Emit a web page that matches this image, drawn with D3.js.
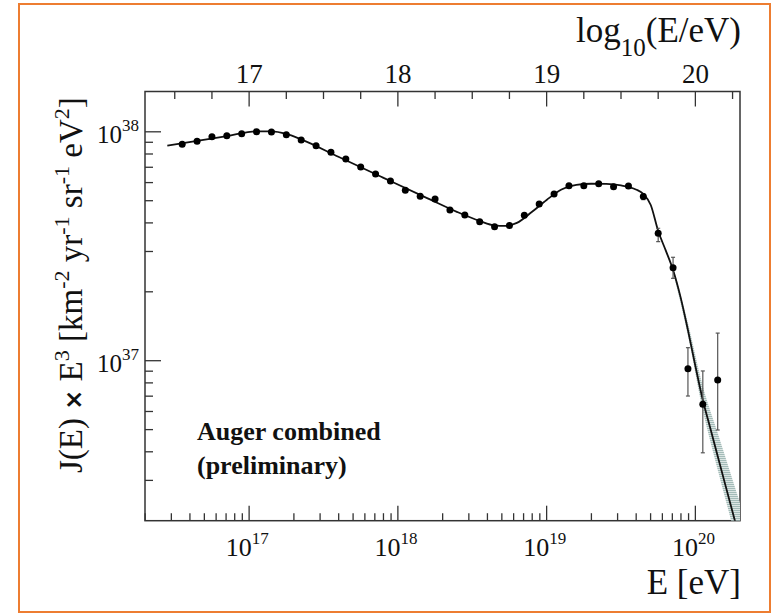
<!DOCTYPE html>
<html>
<head>
<meta charset="utf-8">
<script src="https://cdn.jsdelivr.net/npm/d3@7"></script>
<style>
  body { margin: 0; background: #fff; }
</style>
</head>
<body>
<svg id="chart" width="773" height="615"></svg>
<script>
// Energy bin centres, log10(E/eV)
const binLogE = [16.55, 16.65, 16.75, 16.85, 16.95, 17.05, 17.15, 17.25, 17.35, 17.45,
                 17.55, 17.65, 17.75, 17.85, 17.95, 18.05, 18.15, 18.25, 18.35, 18.45,
                 18.55, 18.65, 18.75, 18.85, 18.95, 19.05, 19.15, 19.25, 19.35, 19.45,
                 19.55, 19.65, 19.75, 19.85, 19.95, 20.05, 20.15];
// J(E) x E^3 [km^-2 yr^-1 sr^-1 eV^2]
const fluxE3 = [8.82e37, 9.09e37, 9.52e37, 9.62e37, 9.81e37, 1.00e38, 9.98e37, 9.71e37, 9.21e37, 8.70e37,
                8.14e37, 7.61e37, 7.02e37, 6.54e37, 6.10e37, 5.55e37, 5.23e37, 5.09e37, 4.55e37, 4.33e37,
                4.05e37, 3.85e37, 3.90e37, 4.32e37, 4.84e37, 5.35e37, 5.81e37, 5.81e37, 5.93e37, 5.76e37,
                5.80e37, 5.21e37, 3.60e37, 2.55e37, 9.23e36, 6.45e36, 8.24e36];
// Statistical uncertainty bounds (null where hidden by the marker)
const fluxLow  = [null, null, null, null, null, null, null, null, null, null,
                  null, null, null, null, null, null, null, null, null, null,
                  null, null, null, null, null, null, null, null, null, 5.66e37,
                  5.70e37, 5.06e37, 3.31e37, 2.29e37, 7.01e36, 3.96e36, 4.98e36];
const fluxHigh = [null, null, null, null, null, null, null, null, null, null,
                  null, null, null, null, null, null, null, null, null, null,
                  null, null, null, null, null, null, null, null, null, 5.86e37,
                  5.90e37, 5.37e37, 3.79e37, 2.83e37, 1.14e37, 9.02e36, 1.32e37];

// Combined spectrum fit
const fitLogE = [16.45, 16.65, 16.85, 17.05, 17.15, 17.25, 17.35, 17.6, 17.9, 18.2,
                 18.4, 18.55, 18.65, 18.72, 18.8, 18.9, 19.0, 19.1, 19.2, 19.3,
                 19.4, 19.5, 19.6, 19.65, 19.7, 19.75, 19.8, 19.85, 19.9, 19.95,
                 20.0, 20.05, 20.1, 20.2, 20.3];
const fitFlux = [8.70e37, 9.12e37, 9.58e37, 1.005e38, 1.005e38, 9.80e37, 9.27e37, 7.78e37, 6.31e37, 5.12e37,
                 4.46e37, 4.08e37, 3.90e37, 3.88e37, 4.00e37, 4.46e37, 5.04e37, 5.60e37, 5.86e37, 5.93e37,
                 5.92e37, 5.83e37, 5.60e37, 5.35e37, 4.79e37, 3.69e37, 3.04e37, 2.49e37, 1.90e37, 1.36e37,
                 9.48e36, 6.73e36, 5.08e36, 2.89e36, 1.65e36];

// Fit uncertainty band at the highest energies
const bandLogE = [19.85, 19.95, 20.05, 20.15, 20.25, 20.3];
const bandHigh = [2.56e37, 1.46e37, 7.73e36, 4.83e36, 3.02e36, 2.39e36];
const bandLow  = [2.43e37, 1.29e37, 6.07e36, 3.34e36, 1.89e36, 1.40e36];

// Axis labelling
const bottomDecades = [17, 18, 19, 20];
const topTickLabels = ["17", "18", "19", "20"];
const leftDecades = [37, 38];

const SERIF = "'Liberation Serif'";
const svg = d3.select("#chart");
const plot = { left: 145, right: 740, top: 91.5, bottom: 520.7 };

// Orange frame
svg.append("rect").attr("x", 19).attr("y", 4).attr("width", 751).attr("height", 608)
  .attr("fill", "none").attr("stroke", "#ED7D31").attr("stroke-width", 2);

const x = d3.scaleLog().domain([Math.pow(10, 16.3), Math.pow(10, 20.3)]).range([plot.left, plot.right]);
const xLin = d3.scaleLinear().domain([16.3, 20.3]).range([plot.left, plot.right]);
const y = d3.scaleLog().domain([2e36, 1.5e38]).range([plot.bottom, plot.top]);

const axisColor = "#333";

// Bottom axis ticks: 2..9 x 10^n minors, decades major
const bottomTicks = [];
for (let d = 16; d <= 20; d++) {
  for (let m = 1; m <= 9; m++) {
    const v = m * Math.pow(10, d);
    if (v >= x.domain()[0] * 1.0001 && v <= x.domain()[1]) bottomTicks.push({ v, major: m === 1 });
  }
}
const leftTicks = [];
for (let d = 36; d <= 38; d++) {
  for (let m = 1; m <= 9; m++) {
    const v = m * Math.pow(10, d);
    if (v > y.domain()[0] * 1.0001 && v <= y.domain()[1]) leftTicks.push({ v, major: m === 1 });
  }
}
const topTicks = d3.range(16.5, 20.3, 0.25).map(v => ({ v, major: Math.abs(v - Math.round(v)) < 1e-6 }));

const ticks = svg.append("g").attr("stroke", axisColor).attr("stroke-width", 1.3);
ticks.selectAll(".bt").data(bottomTicks).join("line")
  .attr("x1", d => x(d.v)).attr("x2", d => x(d.v))
  .attr("y1", plot.bottom).attr("y2", d => plot.bottom - (d.major ? 15 : 7.5));
ticks.selectAll(".tt").data(topTicks).join("line")
  .attr("x1", d => xLin(d.v)).attr("x2", d => xLin(d.v))
  .attr("y1", plot.top).attr("y2", d => plot.top + (d.major ? 15 : 7.5));
ticks.selectAll(".lt").data(leftTicks).join("line")
  .attr("y1", d => y(d.v)).attr("y2", d => y(d.v))
  .attr("x1", plot.left).attr("x2", d => plot.left + (d.major ? 16 : 8));

// Plot frame
svg.append("rect").attr("x", plot.left).attr("y", plot.top)
  .attr("width", plot.right - plot.left).attr("height", plot.bottom - plot.top)
  .attr("fill", "none").attr("stroke", axisColor).attr("stroke-width", 1.5);

function label(sel) { return sel.append("text").style("font-family", SERIF).attr("fill", "#111"); }

// Bottom tick labels 10^n
bottomDecades.forEach(n => {
  const t = label(svg).attr("x", x(Math.pow(10, n)) - 2).attr("y", 556)
    .attr("text-anchor", "middle").attr("font-size", 26);
  t.append("tspan").text("10");
  t.append("tspan").attr("dy", -12).attr("font-size", 17).text(n);
});
// Left tick labels 10^n
leftDecades.forEach(n => {
  const t = label(svg).attr("x", 139).attr("y", y(Math.pow(10, n)) + 11)
    .attr("text-anchor", "end").attr("font-size", 25);
  t.append("tspan").text("10");
  t.append("tspan").attr("dy", -12).attr("font-size", 17).text(n);
});
// Top tick labels
topTickLabels.forEach(s => {
  label(svg).attr("x", xLin(+s)).attr("y", 83)
    .attr("text-anchor", "middle").attr("font-size", 27).text(s);
});

// Axis titles
label(svg).attr("x", 741).attr("y", 594).attr("text-anchor", "end").attr("font-size", 35).text("E [eV]");
const lt = label(svg).attr("x", 741).attr("y", 42).attr("text-anchor", "end").attr("font-size", 35);
lt.append("tspan").text("log");
lt.append("tspan").attr("dy", 14).attr("font-size", 25).text("10");
lt.append("tspan").attr("dy", -14).text("(E/eV)");

const yl = label(svg).attr("transform", "translate(82,473) rotate(-90)")
  .attr("text-anchor", "start").attr("font-size", 33);
yl.append("tspan").text("J(E) ");
yl.append("tspan").style("font-family", "'DejaVu Sans'").attr("font-weight", "bold").attr("font-size", 24).text("\u00d7");
yl.append("tspan").text(" E");
yl.append("tspan").attr("dy", -13).attr("font-size", 22).text("3");
yl.append("tspan").attr("dy", 13).text(" [km");
yl.append("tspan").attr("dy", -13).attr("font-size", 22).text("-2");
yl.append("tspan").attr("dy", 13).text(" yr");
yl.append("tspan").attr("dy", -13).attr("font-size", 22).text("-1");
yl.append("tspan").attr("dy", 13).text(" sr");
yl.append("tspan").attr("dy", -13).attr("font-size", 22).text("-1");
yl.append("tspan").attr("dy", 13).text(" eV");
yl.append("tspan").attr("dy", -13).attr("font-size", 22).text("2");
yl.append("tspan").attr("dy", 13).text("]");

// Clip to the plot area
const defs = svg.append("defs");
defs.append("clipPath").attr("id", "plotClip")
  .append("rect").attr("x", plot.left).attr("y", plot.top)
  .attr("width", plot.right - plot.left).attr("height", plot.bottom - plot.top);

// Hatched fill for the band
const pat = defs.append("pattern").attr("id", "hatch")
  .attr("patternUnits", "userSpaceOnUse").attr("width", 4).attr("height", 2);
pat.append("rect").attr("width", 4).attr("height", 2).attr("fill", "#dbe5e3");
pat.append("line").attr("x1", 0).attr("x2", 4).attr("y1", 0.5).attr("y2", 0.5)
  .attr("stroke", "#a3bbb8").attr("stroke-width", 1);

const g = svg.append("g").attr("clip-path", "url(#plotClip)");

const bandData = bandLogE.map((e, i) => ({ e, lo: bandLow[i], hi: bandHigh[i] }));
g.append("path").datum(bandData)
  .attr("d", d3.area().x(d => x(Math.pow(10, d.e))).y0(d => y(d.lo)).y1(d => y(d.hi)).curve(d3.curveMonotoneX))
  .attr("fill", "url(#hatch)");

const fitData = fitLogE.map((e, i) => ({ e, v: fitFlux[i] }));
g.append("path").datum(fitData)
  .attr("d", d3.line().x(d => x(Math.pow(10, d.e))).y(d => y(d.v)).curve(d3.curveMonotoneX))
  .attr("fill", "none").attr("stroke", "#111").attr("stroke-width", 1.8);

// Error bars
const pts = binLogE.map((e, i) => ({ e, v: fluxE3[i], lo: fluxLow[i], hi: fluxHigh[i] }));
const eb = g.append("g").attr("stroke", "#555").attr("stroke-width", 1.2);
pts.filter(d => d.lo !== null).forEach(d => {
  const cx = x(Math.pow(10, d.e));
  eb.append("line").attr("x1", cx).attr("x2", cx).attr("y1", y(d.lo)).attr("y2", y(d.hi));
  eb.append("line").attr("x1", cx - 2).attr("x2", cx + 2).attr("y1", y(d.lo)).attr("y2", y(d.lo));
  eb.append("line").attr("x1", cx - 2).attr("x2", cx + 2).attr("y1", y(d.hi)).attr("y2", y(d.hi));
});
g.append("g").selectAll("circle").data(pts).join("circle")
  .attr("cx", d => x(Math.pow(10, d.e))).attr("cy", d => y(d.v)).attr("r", 3.5).attr("fill", "#000");

// Annotation
label(svg).attr("x", 197).attr("y", 440).attr("font-size", 26).attr("font-weight", "bold").text("Auger combined");
label(svg).attr("x", 197).attr("y", 474).attr("font-size", 26).attr("font-weight", "bold").text("(preliminary)");
</script>
</body>
</html>
